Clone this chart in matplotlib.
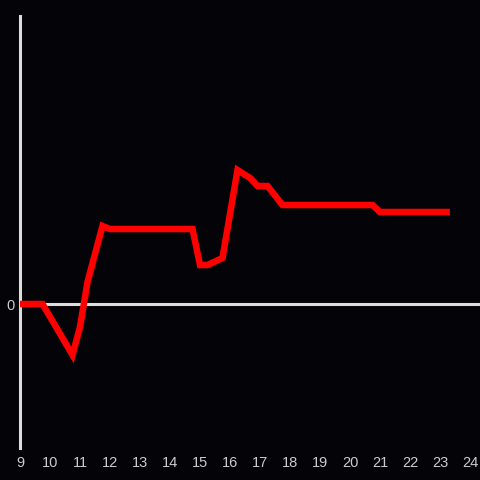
import matplotlib
matplotlib.use("Agg")
import matplotlib.pyplot as plt

hours = [9.0, 9.75, 10.75, 11.0, 11.25, 11.75, 12.0, 14.75, 15.0, 15.25, 15.75,
         16.25, 16.67, 16.92, 17.25, 17.75, 20.75, 21.0, 23.33]
values = [0, 0, -51, -23, 22, 78, 75, 75, 39, 39, 46,
          134, 126, 118, 118, 99, 99, 92, 92]
xticks = list(range(9, 25))
ytick_labels = ["0"]

bg = "#040307"
fig = plt.figure(figsize=(4.8, 4.8), dpi=100, facecolor=bg)
ax = fig.add_axes([20/480, 32/480, 460/480, 432/480], facecolor=bg)

ax.axhline(0, color="#dddddd", lw=2.2, zorder=1)
ax.plot(hours, values, color="#ff0000", lw=4.7, solid_joinstyle="miter",
        solid_capstyle="butt", zorder=3)

ax.set_xlim(9, 9 + 460/30)
ax.set_ylim(-144, 288)

for s in ["top", "right", "bottom"]:
    ax.spines[s].set_visible(False)
ax.spines["left"].set_color("#dddddd")
ax.spines["left"].set_linewidth(2.2)

ax.set_xticks(xticks)
ax.set_xticklabels([str(t) for t in xticks])
ax.set_yticks([0])
ax.set_yticklabels(ytick_labels)
ax.tick_params(axis="x", length=0, pad=6, colors="#cccccc", labelsize=10.5)
ax.tick_params(axis="y", length=0, pad=4, colors="#cccccc", labelsize=10.5)
for lab in ax.get_xticklabels() + ax.get_yticklabels():
    lab.set_fontfamily("Liberation Sans")

fig.savefig("out.png", dpi=100, facecolor=bg)
